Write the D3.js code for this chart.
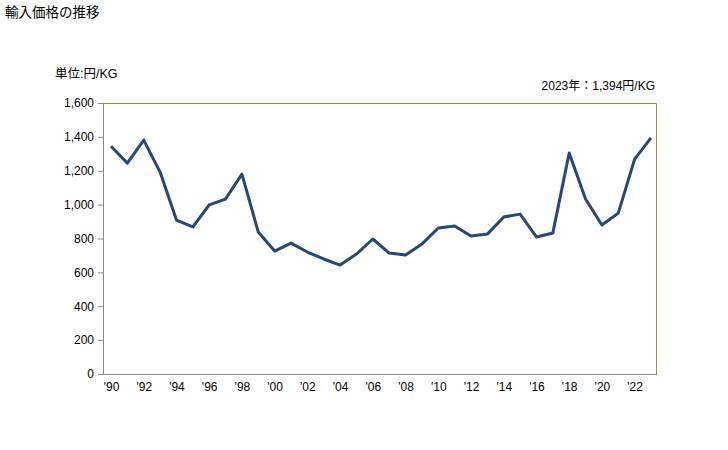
<!DOCTYPE html>
<html>
<head>
<meta charset="utf-8">
<script src="https://cdn.jsdelivr.net/npm/d3@7"></script>
<style>
  body { margin: 0; background: #fff; }
  text { font-family: "Liberation Sans", "Noto Sans CJK JP", sans-serif; fill: #000; }
</style>
</head>
<body>
<svg id="chart" width="728" height="450"></svg>
<script>
const years = d3.range(1990, 2024)
const prices = [1345, 1245, 1381, 1192, 909, 868, 998, 1033, 1180, 838,
  726, 773, 720, 679, 643, 708, 797, 714, 702, 767,
  862, 874, 815, 826, 927, 944, 809, 832, 1305, 1033,
  880, 950, 1269, 1394]
const yTicks = [0, 200, 400, 600, 800, 1000, 1200, 1400, 1600]
const xTicks = d3.range(1990, 2023, 2)

const svg = d3.select('#chart')
const plotL = 103, plotR = 657, plotT = 103, plotB = 374

// points sit a little closer to the right border than the left one
const x = d3.scalePoint().domain(years).range([plotL + 8, plotR - 6])
const y = d3.scaleLinear().domain([0, 1600]).range([plotB, plotT])

svg.append('text').attr('x', 5).attr('y', 17)
  .attr('font-family', '"Noto Sans CJK JP"').style('font-size', '13.5px')
  .text('輸入価格の推移')
svg.append('text').attr('x', 55).attr('y', 78)
  .attr('font-family', '"Noto Sans CJK JP"').style('font-size', '12.5px')
  .text('単位:円/KG')
svg.append('text').attr('x', 655).attr('y', 90).attr('text-anchor', 'end')
  .style('font-size', '12px')
  .text('2023年：1,394円/KG')

// plot border (top and right)
svg.append('path')
  .attr('d', `M${plotL},${plotT + 0.5}H${plotR - 0.5}V${plotB}`)
  .attr('fill', 'none').attr('stroke', '#9b8f4e').attr('stroke-width', 1)

const yAxis = svg.append('g').attr('transform', `translate(${plotL},0)`)
  .call(d3.axisLeft(y).tickValues(yTicks).tickSize(5).tickPadding(4)
    .tickFormat(d3.format(',')))
yAxis.selectAll('line, path').attr('stroke', '#888')
yAxis.selectAll('text').style('font-size', '12px')
  .style('font-family', '"Liberation Sans", sans-serif')

const xAxis = svg.append('g').attr('transform', `translate(0,${plotB})`)
  .call(d3.axisBottom(x).tickValues(xTicks).tickSize(0).tickPadding(8)
    .tickFormat((d) => "'" + String(d).slice(2)))
xAxis.select('path').attr('stroke', '#888').attr('d', `M${plotL},0.5H${plotR}`)
xAxis.selectAll('text').style('font-size', '12px')
  .style('font-family', '"Liberation Sans", sans-serif')

const line = d3.line().x((d, i) => x(years[i])).y((d) => y(d))
svg.append('path').datum(prices)
  .attr('d', line)
  .attr('fill', 'none')
  .attr('stroke', '#264878')
  .attr('stroke-width', 3)
  .attr('stroke-linejoin', 'round')
</script>
</body>
</html>
